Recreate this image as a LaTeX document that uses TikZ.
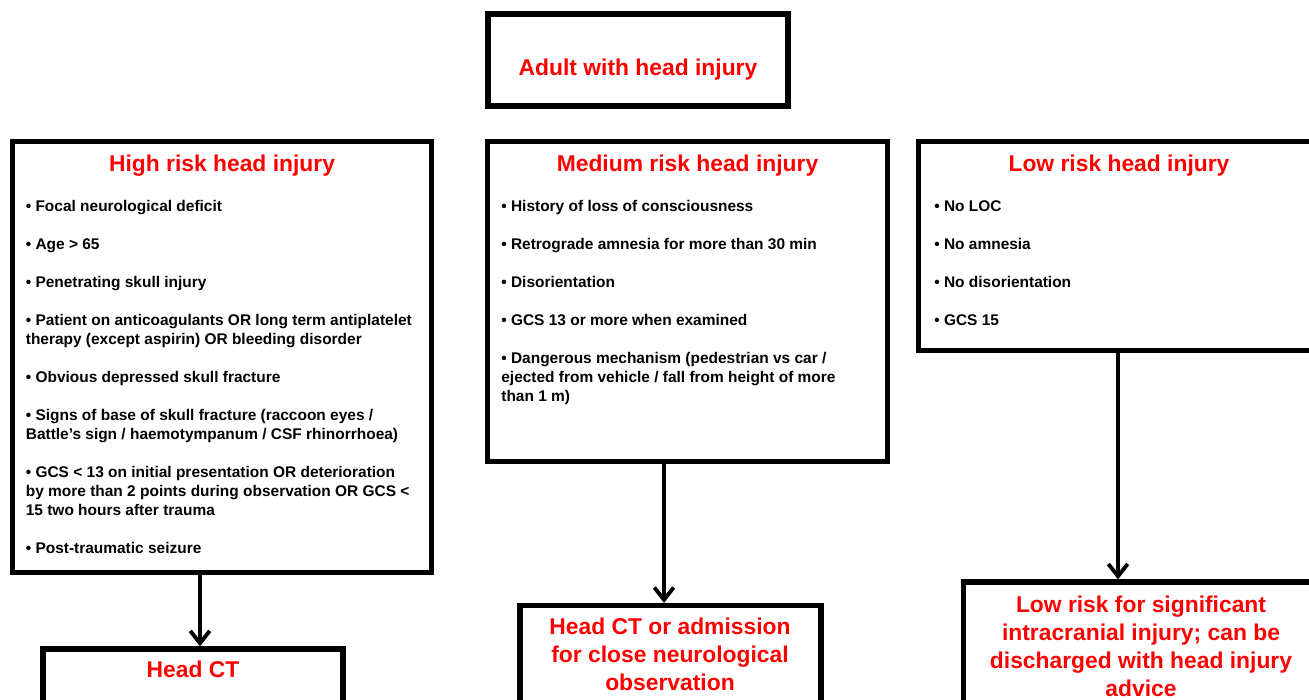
\documentclass[tikz,border=0pt]{standalone}
\usepackage{fontspec}
\setmainfont{Liberation Sans}
\usetikzlibrary{arrows.meta}

\begin{document}
\begin{tikzpicture}[x=0.02cm, y=-0.02cm,
    box/.style={draw, line width=3pt, inner sep=0pt},
    heading/.style={text=red, font=\bfseries\fontsize{13}{15.9}\selectfont, inner sep=0pt, anchor=base},
    items/.style={font=\bfseries\fontsize{8.8}{10.8}\selectfont, align=left, inner sep=0pt, anchor=north west},
    outcome/.style={text=red, font=\bfseries\fontsize{13}{15.9}\selectfont, align=center, inner sep=0pt, anchor=north},
    flow/.style={line width=2.2pt, -{Straight Barb[length=7pt, width=11pt]}}]
  \clip (0,0) rectangle (1309,700);
  % boxes
  \node[box, minimum width=6.0cm,  minimum height=1.84cm] (adult)     at (638,60) {};
  \node[box, minimum width=8.38cm, minimum height=8.62cm] (high)      at (222,357) {};
  \node[box, minimum width=8.0cm,  minimum height=6.4cm]  (medium)    at (687.5,301.5) {};
  \node[box, minimum width=8.02cm, minimum height=4.18cm] (low)       at (1119,246) {};
  \node[box, minimum width=6.0cm,  minimum height=2.2cm]  (headct)    at (193,704) {};
  \node[box, minimum width=6.02cm, minimum height=3.0cm]  (admit)     at (670.5,680.5) {};
  \node[box, minimum width=7.1cm,  minimum height=3.4cm]  (discharge) at (1141,667) {};
  % headings
  \node[heading] (adulttext)   at (638,75)    {Adult with head injury};
  \node[heading] (hightitle)   at (222,171)   {High risk head injury};
  \node[heading] (mediumtitle) at (687.5,171) {Medium risk head injury};
  \node[heading] (lowtitle)    at (1119,171)  {Low risk head injury};
  % criteria
  \node[items] (highlist) at (25.5,200) {%
    • Focal neurological deficit\\[10.8pt]
    • Age > 65\\[10.8pt]
    • Penetrating skull injury\\[10.8pt]
    • Patient on anticoagulants OR long term antiplatelet\\
    therapy (except aspirin) OR bleeding disorder\\[10.8pt]
    • Obvious depressed skull fracture\\[10.8pt]
    • Signs of base of skull fracture (raccoon eyes /\\
    Battle’s sign / haemotympanum / CSF rhinorrhoea)\\[10.8pt]
    • GCS < 13 on initial presentation OR deterioration\\
    by more than 2 points during observation OR GCS <\\
    15 two hours after trauma\\[10.8pt]
    • Post-traumatic seizure};
  \node[items] (mediumlist) at (501,200) {%
    • History of loss of consciousness\\[10.8pt]
    • Retrograde amnesia for more than 30 min\\[10.8pt]
    • Disorientation\\[10.8pt]
    • GCS 13 or more when examined\\[10.8pt]
    • Dangerous mechanism (pedestrian vs car /\\
    ejected from vehicle / fall from height of more\\
    than 1 m)};
  \node[items] (lowlist) at (934,200) {%
    • No LOC\\[10.8pt]
    • No amnesia\\[10.8pt]
    • No disorientation\\[10.8pt]
    • GCS 15};
  % outcomes
  \node[outcome] (headcttext) at (193,661) {Head CT};
  \node[outcome] (admittext)  at (670,618) {Head CT or admission\\for close neurological\\observation};
  \node[outcome] (dischargetext) at (1141,596) {Low risk for significant\\intracranial injury; can be\\discharged with head injury\\advice};
  % arrows
  \coordinate (xa) at (200,0);
  \coordinate (xb) at (664,0);
  \coordinate (xc) at (1118,0);
  \draw[flow] (high.south -| xa) -- (headct.north -| xa);
  \draw[flow] (medium.south -| xb) -- (admit.north -| xb);
  \draw[flow] (low.south -| xc) -- (discharge.north -| xc);
\end{tikzpicture}
\end{document}
